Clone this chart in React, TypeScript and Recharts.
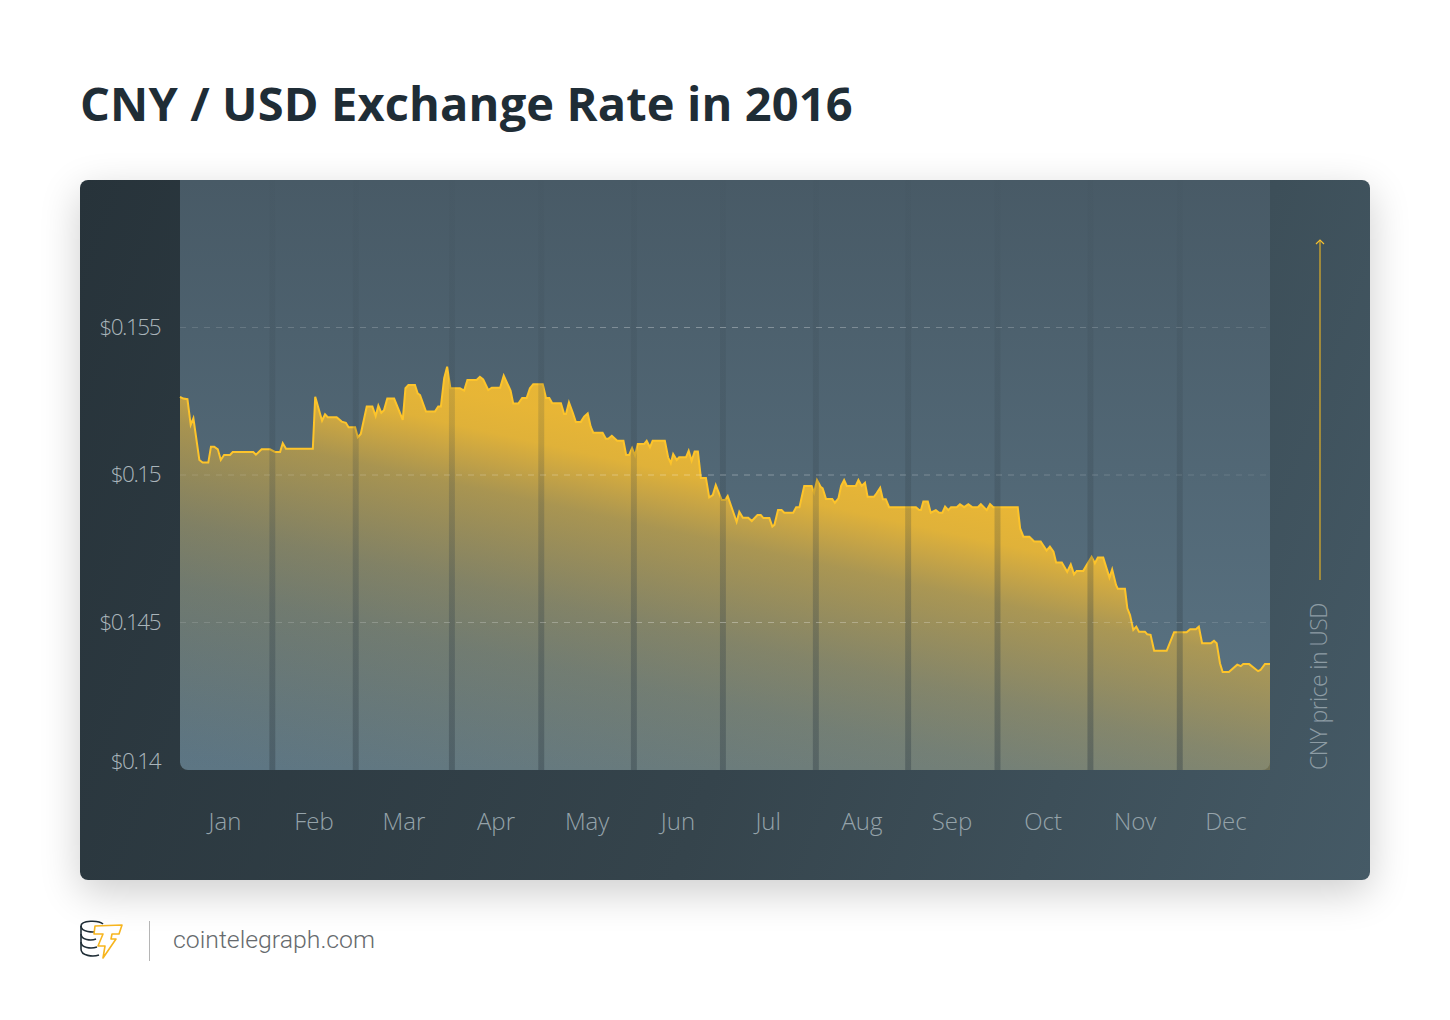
import {
  ComposedChart,
  Area,
  XAxis,
  YAxis,
  ReferenceLine,
  ReferenceArea,
} from "recharts";

const rateDays = [
  0, 1.1, 2.5, 3.6, 4.5, 6.5, 7.6, 9.5, 10.4, 11.5,
  12.7, 13.7, 14.8, 16.8, 17.7, 24.6, 25.5, 27.4, 30.2, 31.9,
  33.6, 34.5, 35.6, 44.6, 45.4, 47.7, 48.7, 49.6, 52.6, 54.3,
  55.7, 56.6, 58.8, 59.7, 60.7, 62.7, 64.6, 65.7, 66.6, 67.6,
  68.5, 69.6, 71.9, 74.8, 75.7, 76.7, 78.9, 79.8, 80.6, 82.6,
  85.6, 86.7, 87.6, 88.7, 89.7, 90.8, 94, 95.4, 96.5, 99.6,
  100.7, 101.8, 103.5, 104.7, 107.5, 108.7, 111, 111.9, 113.6, 114.9,
  116.4, 117.5, 118.6, 121.8, 122.9, 124, 125, 127.9, 129, 129.6,
  130.6, 131.9, 132.9, 134.6, 135.7, 136.9, 137.9, 138.8, 141.9, 143,
  143.8, 145, 146.8, 148.9, 149.8, 150.8, 151.8, 152.8, 153.7, 155.8,
  156.7, 157.8, 158.7, 162.8, 163.9, 164.8, 165.6, 166.8, 167.6, 169.9,
  170.8, 171.8, 172.8, 173.9, 174.9, 176.6, 177.7, 178.9, 179.9, 181.9,
  183, 183.9, 186.9, 187.8, 189, 190.8, 192, 193.9, 195, 195.9,
  197.9, 198.9, 199.6, 200.8, 202, 202.9, 205.9, 206.9, 208, 209.6,
  212.1, 212.9, 213.9, 215.1, 215.8, 216.9, 219, 219.9, 221.1, 222,
  223, 223.9, 226.9, 227.8, 228.9, 230, 230.9, 233, 233.9, 235.1,
  236, 237, 238.1, 247.1, 248.2, 248.8, 249.6, 251.1, 252.1, 253.8,
  254.9, 256, 256.9, 258, 258.9, 260.8, 261.9, 263.3, 264.7, 266,
  267.9, 268.9, 270.9, 272, 273.1, 281.3, 282.1, 283.2, 285.2, 286.8,
  289, 291, 292.1, 293.3, 294.2, 296.1, 297.9, 299.1, 300.2, 301.1,
  303.3, 306.1, 307.2, 308.2, 310, 312.1, 313, 314.3, 314.9, 317.3,
  318.1, 319, 320.1, 321.1, 322, 324, 324.8, 325.9, 327.1, 331.3,
  333.8, 338, 339.2, 341.1, 342.1, 343.2, 346.2, 347.2, 348.1, 349.2,
  350.1, 352.2, 355, 356.2, 357, 359, 362, 362.8, 364.3, 366,
];

const rates = [
  0.15265, 0.15259, 0.15257, 0.1517, 0.15192, 0.15051, 0.15042, 0.15042, 0.15096, 0.15096,
  0.15087, 0.15051, 0.15068, 0.15068, 0.15078, 0.15078, 0.15069, 0.15087, 0.15087, 0.15078,
  0.15078, 0.15108, 0.15089, 0.15089, 0.15265, 0.15184, 0.15206, 0.15196, 0.15196, 0.15181,
  0.15177, 0.15162, 0.15162, 0.15128, 0.15139, 0.15232, 0.15232, 0.152, 0.15235, 0.15211,
  0.1522, 0.15259, 0.15259, 0.15187, 0.15294, 0.15305, 0.15305, 0.15277, 0.15271, 0.15215,
  0.15215, 0.15232, 0.15232, 0.15328, 0.15367, 0.15294, 0.15294, 0.15286, 0.15322, 0.15322,
  0.15333, 0.15324, 0.15288, 0.15296, 0.15296, 0.15337, 0.15286, 0.15242, 0.15242, 0.15261,
  0.15261, 0.15294, 0.15308, 0.15308, 0.15261, 0.15261, 0.15243, 0.15243, 0.15207, 0.15207,
  0.15246, 0.15211, 0.1518, 0.1518, 0.15198, 0.15209, 0.15164, 0.15143, 0.15143, 0.15123,
  0.15123, 0.15133, 0.15116, 0.15116, 0.15068, 0.15068, 0.15091, 0.15066, 0.15105, 0.15105,
  0.15116, 0.15094, 0.15116, 0.15116, 0.1506, 0.1504, 0.15071, 0.15051, 0.1506, 0.1506,
  0.15082, 0.15048, 0.1508, 0.1508, 0.1499, 0.1499, 0.14924, 0.14932, 0.14966, 0.14915,
  0.14915, 0.14929, 0.14841, 0.14875, 0.14855, 0.14855, 0.14844, 0.14864, 0.14864, 0.14854,
  0.14854, 0.14825, 0.14831, 0.14881, 0.14881, 0.14872, 0.14872, 0.14891, 0.14891, 0.14963,
  0.14963, 0.1494, 0.14983, 0.1496, 0.14955, 0.14919, 0.14919, 0.14906, 0.14921, 0.14963,
  0.14983, 0.14963, 0.14963, 0.14983, 0.14963, 0.14974, 0.14926, 0.14926, 0.14938, 0.14957,
  0.14918, 0.14918, 0.14891, 0.14891, 0.14881, 0.14881, 0.1491, 0.1491, 0.14872, 0.14881,
  0.14872, 0.14872, 0.14893, 0.14881, 0.14891, 0.14891, 0.14901, 0.14891, 0.14901, 0.14891,
  0.14891, 0.14901, 0.14881, 0.14901, 0.14891, 0.14891, 0.14819, 0.14791, 0.14791, 0.14775,
  0.14775, 0.14744, 0.14757, 0.1474, 0.14703, 0.14703, 0.14672, 0.14697, 0.14663, 0.14675,
  0.14675, 0.14723, 0.14701, 0.1472, 0.1472, 0.14652, 0.1468, 0.14627, 0.14614, 0.14614,
  0.14548, 0.14525, 0.14475, 0.14486, 0.14469, 0.14469, 0.1446, 0.14458, 0.14404, 0.14404,
  0.14467, 0.14467, 0.14477, 0.14477, 0.14486, 0.1443, 0.1443, 0.14438, 0.1443, 0.14362,
  0.14332, 0.14332, 0.14357, 0.14352, 0.14359, 0.14359, 0.14335, 0.14339, 0.14359, 0.14359,
];

const months = ["Jan", "Feb", "Mar", "Apr", "May", "Jun", "Jul", "Aug", "Sep", "Oct", "Nov", "Dec"];
const monthTickDays = [15.1, 45, 75.2, 106.1, 136.7, 167.2, 197.5, 229, 259.2, 289.8, 320.7, 351.2];
const monthBandStarts = [30, 58, 90.3, 120.3, 151.4, 181.3, 212.5, 243.5, 273.5, 304.7, 334.7];
const rateTicks = [0.14, 0.145, 0.15, 0.155];
const gridRates = [0.145, 0.15, 0.155];

const data = rateDays.map((day, i) => ({ day, rate: rates[i] }));

const LIGHT = "'Open Sans', sans-serif";

function RateTick({ x, y, payload }: any) {
  // the bottom label sits a little above the plot floor
  const lift = payload.value === 0.14 ? -9 : -1;
  return (
    <text
      x={x - 2}
      y={y + lift}
      dy={8}
      textAnchor="end"
      fontFamily={LIGHT}
      fontWeight={300}
      fontSize={22.5}
      letterSpacing={-1.5}
      fill="#aab5bb"
    >
      {"$" + payload.value}
    </text>
  );
}

function MonthTick({ x, y, payload }: any) {
  return (
    <text
      x={x}
      y={y + 2}
      dy={8}
      textAnchor="middle"
      fontFamily={LIGHT}
      fontWeight={300}
      fontSize={24}
      fill="#95a3aa"
    >
      {months[monthTickDays.indexOf(payload.value)]}
    </text>
  );
}

function Logo() {
  return (
    <svg width={46} height={42} viewBox="0 0 46 42" style={{ position: "absolute", left: 79, top: 919 }}>
      <g fill="none" stroke="#1f2d36" strokeWidth={1.6}>
        <path d="M24 5 C20 1 2 1 2 7 L2 30 C2 37 14 38 20 36" />
        <path d="M2 7 C2 13 14 14 20 12" />
        <path d="M2 15 C2 21 12 22 17 20" />
        <path d="M2 23 C2 29 12 30 18 28" />
      </g>
      <path
        d="M16 7 L43 6 L40 15 L33 15 L32 20 L37 20 L24 39 L26 27 L19 27 L24 15 L15 15 Z"
        fill="#fff"
        stroke="#f7b51e"
        strokeWidth={1.6}
        strokeLinejoin="round"
      />
    </svg>
  );
}

export default function App() {
  return (
    <div style={{ position: "absolute", left: 0, top: 0, width: 1450, height: 1020, background: "#fff", overflow: "hidden" }}>
      <div
        style={{
          position: "absolute",
          left: 80,
          top: 74,
          fontFamily: "'Open Sans', sans-serif",
          fontWeight: 700,
          fontSize: 47,
          lineHeight: "58px",
          letterSpacing: 0.13,
          color: "#1f2d36",
          whiteSpace: "nowrap",
        }}
      >
        CNY / USD Exchange Rate in 2016
      </div>

      <div
        style={{
          position: "absolute",
          left: 80,
          top: 180,
          width: 1290,
          height: 700,
          borderRadius: 8,
          background: "linear-gradient(110deg, #27333a 0%, #35444c 55%, #455a66 100%)",
          boxShadow: "0 12px 40px rgba(0,0,0,0.2)",
        }}
      />
      <div
        style={{
          position: "absolute",
          left: 180,
          top: 180,
          width: 1090,
          height: 590,
          borderRadius: "0 0 8px 8px",
          background: "linear-gradient(180deg, #485a66 0%, #5b7585 100%)",
        }}
      />

      <div style={{ position: "absolute", left: 80, top: 180 }}>
        <ComposedChart
          width={1290}
          height={700}
          data={data}
          margin={{ top: 0, right: 0, bottom: 0, left: 0 }}
        >
          <defs>
            <linearGradient id="rateFill" gradientUnits="userSpaceOnUse" x1={620} y1={264} x2={531} y2={670}>
              <stop offset="0%" stopColor="#ecb834" stopOpacity={0.97} />
              <stop offset="8%" stopColor="#ecb834" stopOpacity={0.92} />
              <stop offset="14%" stopColor="#eab636" stopOpacity={0.78} />
              <stop offset="22%" stopColor="#e8b536" stopOpacity={0.58} />
              <stop offset="45%" stopColor="#e0b03a" stopOpacity={0.32} />
              <stop offset="60%" stopColor="#dcae3c" stopOpacity={0.2} />
              <stop offset="100%" stopColor="#c8a040" stopOpacity={0.02} />
            </linearGradient>
            <linearGradient id="monthBand" x1="0" y1="0" x2="0" y2="1">
              <stop offset="0%" stopColor="#2e3b43" stopOpacity={0.03} />
              <stop offset="100%" stopColor="#2e3b43" stopOpacity={0.38} />
            </linearGradient>
            <linearGradient id="gridFade" gradientUnits="userSpaceOnUse" x1={100} y1={0} x2={1190} y2={0}>
              <stop offset="0%" stopColor="#ffffff" stopOpacity={0.12} />
              <stop offset="50%" stopColor="#ffffff" stopOpacity={0.32} />
              <stop offset="100%" stopColor="#ffffff" stopOpacity={0.1} />
            </linearGradient>
          </defs>

          <XAxis
            dataKey="day"
            type="number"
            domain={[0, 366]}
            ticks={monthTickDays}
            interval={0}
            height={110}
            axisLine={false}
            tickLine={false}
            tickMargin={44}
            tick={<MonthTick />}
          />
          <YAxis
            yAxisId="rate"
            type="number"
            domain={[0.14, 0.16]}
            ticks={rateTicks}
            interval={0}
            width={100}
            axisLine={false}
            tickLine={false}
            tickMargin={12}
            tick={<RateTick />}
          />
          <YAxis
            yAxisId="side"
            orientation="right"
            width={100}
            axisLine={false}
            tickLine={false}
            tick={false}
          />

          <Area
            yAxisId="rate"
            type="linear"
            dataKey="rate"
            stroke="#fdc42b"
            strokeWidth={2}
            fill="url(#rateFill)"
            fillOpacity={1}
            dot={false}
            activeDot={false}
            isAnimationActive={false}
          />

          {monthBandStarts.map((start) => (
            <ReferenceArea
              key={start}
              yAxisId="rate"
              x1={start}
              x2={start + 2}
              y1={0.14}
              y2={0.16}
              fill="url(#monthBand)"
              fillOpacity={1}
              stroke="none"
            />
          ))}
          {gridRates.map((rate) => (
            <ReferenceLine
              key={rate}
              yAxisId="rate"
              y={rate}
              stroke="url(#gridFade)"
              strokeWidth={1.2}
              strokeDasharray="6 6"
            />
          ))}
        </ComposedChart>
      </div>

      <svg width={30} height={350} style={{ position: "absolute", left: 1305, top: 235 }}>
        <line x1={15} y1={5} x2={15} y2={345} stroke="#c9a32f" strokeWidth={1.4} />
        <path d="M11 9 L15 5 L19 9" fill="none" stroke="#f4c02e" strokeWidth={1.2} />
      </svg>
      <div
        style={{
          position: "absolute",
          left: 1306,
          top: 770,
          transform: "translate(-50%, 0) rotate(-90deg) translate(50%, 0)",
          transformOrigin: "50% 0",
          fontFamily: LIGHT,
          fontWeight: 300,
          fontSize: 23,
          lineHeight: "24px",
          letterSpacing: -0.6,
          color: "#8d9ca4",
          whiteSpace: "nowrap",
        }}
      >
        CNY price in USD
      </div>

      <Logo />
      <div style={{ position: "absolute", left: 149, top: 921, width: 1, height: 40, background: "#b5b5b5" }} />
      <div
        style={{
          position: "absolute",
          left: 173,
          top: 925,
          fontFamily: "Roboto, sans-serif",
          fontWeight: 300,
          fontSize: 24.8,
          lineHeight: "30px",
          color: "#666a6d",
          whiteSpace: "nowrap",
        }}
      >
        cointelegraph.com
      </div>
    </div>
  );
}
